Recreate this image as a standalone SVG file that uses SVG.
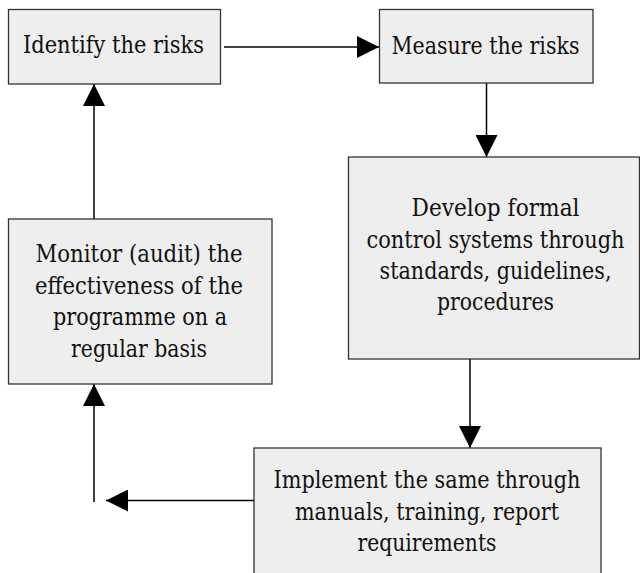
<svg xmlns="http://www.w3.org/2000/svg" width="640" height="573" viewBox="0 0 640 573">
<style>
.box{fill:#eeeeee;stroke:#333333;stroke-width:1.3}
.t{font-family:'DejaVu Serif','Liberation Serif','Times New Roman',serif;font-size:23.5px;fill:#111111;text-anchor:middle}
.c{stroke:#000000;stroke-width:1.5;fill:none}
</style>
<defs>
<marker id="ah" markerUnits="userSpaceOnUse" markerWidth="23" markerHeight="22" refX="22" refY="11" orient="auto">
<path d="M0,0 L22,11 L0,22 Z" fill="#000000"/>
</marker>
</defs>
<rect width="640" height="573" fill="#ffffff"/>
<g id="connectors">
<line class="c" x1="224" y1="47" x2="379" y2="47" marker-end="url(#ah)"/>
<line class="c" x1="486.5" y1="83" x2="486.5" y2="157" marker-end="url(#ah)"/>
<line class="c" x1="470" y1="359" x2="470" y2="448" marker-end="url(#ah)"/>
<line class="c" x1="254" y1="500.5" x2="106" y2="500.5" marker-end="url(#ah)"/>
<line class="c" x1="94" y1="502" x2="94" y2="384" marker-end="url(#ah)"/>
<line class="c" x1="94" y1="219" x2="94" y2="84" marker-end="url(#ah)"/>
</g>
<g id="identify">
<rect class="box" x="8.5" y="9.5" width="212" height="74.5"/>
<text class="t" x="113.5" y="53" textLength="181" lengthAdjust="spacingAndGlyphs">Identify the risks</text>
</g>
<g id="measure">
<rect class="box" x="379.5" y="9.5" width="213.5" height="73.5"/>
<text class="t" x="485.5" y="54" textLength="188" lengthAdjust="spacingAndGlyphs">Measure the risks</text>
</g>
<g id="develop">
<rect class="box" x="348.5" y="157" width="291" height="202"/>
<text class="t" x="495.5" y="216" textLength="168" lengthAdjust="spacingAndGlyphs">Develop formal</text>
<text class="t" x="495.5" y="247.5" textLength="258" lengthAdjust="spacingAndGlyphs">control systems through</text>
<text class="t" x="495.5" y="279" textLength="232" lengthAdjust="spacingAndGlyphs">standards, guidelines,</text>
<text class="t" x="495.5" y="310" textLength="117" lengthAdjust="spacingAndGlyphs">procedures</text>
</g>
<g id="implement">
<rect class="box" x="254" y="448" width="347" height="140"/>
<text class="t" x="427" y="488" textLength="307" lengthAdjust="spacingAndGlyphs">Implement the same through</text>
<text class="t" x="427" y="519.5" textLength="264" lengthAdjust="spacingAndGlyphs">manuals, training, report</text>
<text class="t" x="427" y="551" textLength="139" lengthAdjust="spacingAndGlyphs">requirements</text>
</g>
<g id="monitor">
<rect class="box" x="8.5" y="219" width="263.5" height="165"/>
<text class="t" x="139" y="262" textLength="207" lengthAdjust="spacingAndGlyphs">Monitor (audit) the</text>
<text class="t" x="139" y="293.5" textLength="208" lengthAdjust="spacingAndGlyphs">effectiveness of the</text>
<text class="t" x="140" y="325" textLength="174" lengthAdjust="spacingAndGlyphs">programme on a</text>
<text class="t" x="139" y="356.5" textLength="136" lengthAdjust="spacingAndGlyphs">regular basis</text>
</g>
</svg>
